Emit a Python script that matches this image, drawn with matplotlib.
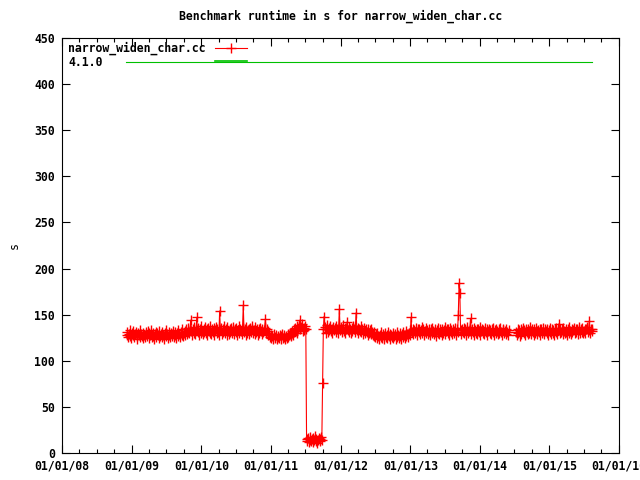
import matplotlib
matplotlib.use("Agg")
import matplotlib.pyplot as plt
import matplotlib.dates as mdates
import pandas as pd

# ========== Data ==========
# benchmark runtimes (s), one sample every 4 days inside each run
run1_start = "2008-12-05"
run1_vals = [
    128, 131, 126, 129, 133, 127, 125, 130, 128, 132, 126, 129, 131, 127, 124, 130, 128, 133, 126, 129,
    127, 125, 130, 128, 126, 131, 129, 127, 132, 130, 125, 128, 133, 126, 130, 127, 124, 129, 131, 126,
    130, 128, 125, 132, 127, 129, 126, 131, 128, 124, 130, 133, 127, 129, 125, 128, 131, 126, 130, 127,
    129, 132, 126, 128, 131, 125, 130, 127, 133, 129, 126, 131, 128, 134, 127, 130, 132, 128, 135, 129,
    131, 136, 130, 133, 144, 132, 128, 135, 130, 137, 129, 133, 147, 131, 136, 128, 134, 130, 138, 132,
    129, 135, 131, 137, 130, 134, 128, 136, 132, 130, 138, 129, 134, 131, 136, 128, 133, 137, 130, 135,
    131, 128, 154, 133, 136, 129, 135, 131, 138, 130, 134, 128, 137, 132, 129, 135, 131, 136, 130, 133,
    137, 129, 134, 131, 136, 128, 133, 138, 130, 135, 132, 129, 136, 160, 131, 134, 128, 137, 130, 133,
    135, 129, 136, 131, 134, 138, 130, 133, 129, 137, 131, 135, 128, 134, 130, 136, 132, 129, 135, 131,
    133, 136, 145, 130, 134, 128, 132, 129, 126, 128, 125, 127, 124, 129, 126, 125, 128, 124, 127, 126,
    125, 128, 124, 127, 129, 125, 126, 128, 124, 127, 125, 129, 126, 128, 130, 127, 129, 132, 128, 134,
    131, 136, 133, 138, 130, 135, 139, 144, 134, 137, 140, 132, 136, 133, 138, 135,
    # low period
    15, 13, 16, 12, 14, 17, 13, 15, 12, 16, 14, 18, 13, 15, 11, 14, 16, 13, 15, 17, 14,
    # recovery
    76,
    134, 148, 137, 130, 135, 139, 131, 136, 133, 138, 132, 135, 130, 137, 133, 136, 131, 138, 134, 130,
    136, 156, 133, 137, 131, 135, 139, 132, 136, 130, 134, 142, 133, 137, 131, 135, 130, 136, 132, 138,
    134, 131, 137, 152, 133, 136, 130, 135, 132, 138, 131, 134, 129, 136, 132, 130, 135, 131, 128, 134,
    130, 133, 129, 135, 131, 128, 127, 131, 126, 129, 125, 130, 127, 124, 128, 126, 131, 125, 129, 127,
    124, 130, 126, 128, 125, 131, 127, 129, 124, 128, 126, 130, 125, 127, 129, 124, 131, 126, 128, 125,
    130, 127, 124, 129, 126, 131, 128, 125, 132, 127, 129, 126, 130, 133, 128, 147, 131, 135, 129, 133,
    130, 136, 132, 128, 134, 131, 135, 129, 133, 137, 130, 134, 128, 132, 136, 130, 133, 129, 135, 131,
    128, 134, 130, 136, 132, 129, 135, 131, 127, 133, 130, 136, 129, 134, 131, 128, 135, 130, 133, 137,
    129, 132, 135, 130, 134, 128, 136, 131, 133, 129, 135, 130, 132, 136, 128, 134, 131, 150, 184, 174,
    133, 129, 135, 131, 136, 130, 134, 128, 133, 137, 130, 132, 135, 146, 129, 134, 131, 136, 128, 133,
    130, 135, 129, 134, 131, 137, 128, 132, 135, 130, 133, 129, 136, 131, 134, 128, 132, 135, 130, 133,
    129, 134, 131, 136, 128, 133, 130, 135, 132, 129, 134, 130, 136, 131, 128, 133, 135, 130, 132, 129,
    134, 131, 128, 133,
]

run2_start = "2014-07-10"
run2_vals = [
    131, 128, 134, 130, 133, 127, 135, 129, 132, 136, 130, 133, 128, 135, 131, 129, 134, 130, 137, 132,
    129, 135, 131, 128, 134, 130, 136, 132, 129, 133, 131, 135, 128, 134, 130, 136, 131, 129, 135, 132,
    130, 134, 128, 133, 136, 131, 129, 135, 130, 133, 128, 134, 131, 136, 129, 133, 140, 130, 135, 131,
    134, 129, 136, 132, 130, 135, 131, 128, 134, 130, 137, 132, 129, 135, 131, 133, 136, 130, 134, 131,
    135, 129, 133, 137, 130, 134, 131, 136, 130, 132, 135, 130, 134, 137, 131, 133, 143, 130, 134, 132,
    135,
]

release_dates = ["2008-12-01", "2015-08-10"]
release_vals = [424, 424]

series_label = "narrow_widen_char.cc"
release_label = "4.1.0"
title = "Benchmark runtime in s for narrow_widen_char.cc"


def main():
    plt.rcParams["font.family"] = "DejaVu Sans Mono"
    plt.rcParams["font.weight"] = "bold"
    plt.rcParams["font.size"] = 8.3

    fig = plt.figure(figsize=(6.4, 4.8), dpi=100)
    ax = fig.add_axes([62 / 640, 27 / 480, 557 / 640, 415 / 480])

    d1 = pd.date_range(run1_start, periods=len(run1_vals), freq="4D")
    d2 = pd.date_range(run2_start, periods=len(run2_vals), freq="4D")
    style = dict(color="#ff0000", lw=0.8, marker="+", ms=6.5, mew=1.0)
    ax.plot(d1, run1_vals, **style)
    ax.plot(d2, run2_vals, **style)
    ax.plot(pd.to_datetime(release_dates), release_vals, color="#00c000", lw=0.8)

    ax.set_xlim(pd.Timestamp("2008-01-01"), pd.Timestamp("2016-01-01"))
    ax.set_ylim(0, 450)
    ax.set_yticks(range(0, 451, 50))
    ax.xaxis.set_major_locator(mdates.YearLocator())
    ax.xaxis.set_major_formatter(mdates.DateFormatter("%m/%d/%y"))
    ax.xaxis.set_minor_locator(mdates.MonthLocator(bymonth=[4, 7, 10]))
    ax.tick_params(which="both", direction="in", top=True, right=True, width=0.8)
    ax.tick_params(which="major", length=6, pad=5)
    ax.tick_params(which="minor", length=3)
    for s in ax.spines.values():
        s.set_linewidth(0.8)

    ax.set_title(title, fontsize=8.3, fontweight="bold", pad=13)
    ax.set_ylabel("s", labelpad=10)

    # key, gnuplot style: text first, sample after
    tr = ax.transAxes
    ax.text(0.011, 0.976, series_label, transform=tr, va="center", ha="left")
    ax.text(0.011, 0.942, release_label, transform=tr, va="center", ha="left")
    ax.plot([0.275, 0.3035, 0.332], [0.976] * 3, transform=tr, markevery=[1], **style)
    ax.plot([0.275, 0.332], [0.944] * 2, transform=tr, color="#00c000", lw=1.2)

    fig.savefig("out.png", dpi=100)


if __name__ == "__main__":
    main()
